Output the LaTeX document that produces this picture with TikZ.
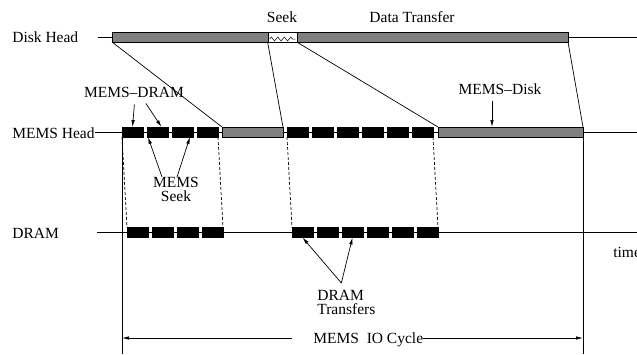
\documentclass[tikz,border=0pt]{standalone}
\usepackage{fontspec}
\setmainfont{Liberation Serif}
\usepackage{tikz}
\usetikzlibrary{arrows.meta,decorations.pathmorphing}
\definecolor{barGray}{RGB}{128,128,128}

\tikzset{
  blk/.style={draw=black, fill=black, minimum width=21pt, minimum height=10pt, inner sep=0pt, outer sep=0pt},
  grayBar/.style={draw=black, fill=barGray, minimum height=10pt, inner sep=0pt, outer sep=0pt},
  lbl/.style={inner sep=0pt, font=\fontsize{15.5}{14}\selectfont},
  pointer/.style={-{Latex[length=7pt,width=3.5pt]}},
}

\begin{document}
\begin{tikzpicture}[x=1pt, y=-1pt, line width=0.7pt]
  \useasboundingbox (0,0) rectangle (637,354);

  % Disk head row
  \node[lbl, anchor=base west] (diskLbl) at (12,42) {Disk Head};
  \coordinate (diskStart) at (98,37);
  \coordinate (diskEnd) at (637,37);
  \draw (diskStart) -- (diskEnd);
  \node[grayBar, minimum width=156pt] (diskA) at (190,37) {};
  \node[draw=black, fill=white, minimum width=29pt, minimum height=10pt, inner sep=0pt] (seekBox) at (282.5,37) {};
  \node[grayBar, minimum width=271pt] (diskB) at (432.5,37) {};
  \draw[line width=0.5pt, decorate, decoration={zigzag, segment length=6.5pt, amplitude=2pt}] %
    ([xshift=2pt, yshift=-2pt]seekBox.west) -- ([xshift=-2pt, yshift=-2pt]seekBox.east);
  \node[lbl, anchor=base] (seekLbl) at (282,22) {Seek};
  \node[lbl, anchor=base] (xferLbl) at (412,22) {Data Transfer};

  % MEMS head row
  \node[lbl, anchor=base west] (memsLbl) at (12,138) {MEMS Head};
  \coordinate (memsEnd) at (637,132);
  \draw (memsLbl.east |- memsEnd) -- (memsEnd);
  \foreach \i in {1,...,4}
    \node[blk] (m\i) at ({132.5+25*(\i-1)},132) {};
  \node[grayBar, minimum width=61pt] (memsA) at (252.5,132) {};
  \foreach \i in {5,...,10}
    \node[blk] (m\i) at ({297.5+25*(\i-5)},132) {};
  \node[grayBar, minimum width=145pt] (memsB) at (510.5,132) {};

  % DRAM row
  \node[lbl, anchor=base west] (dramLbl) at (12,238) {DRAM};
  \coordinate (dramStart) at (97,232.5);
  \coordinate (dramEnd) at (637,232.5);
  \draw (dramStart) -- (dramEnd);
  \foreach \i in {1,...,4}
    \node[blk] (d\i) at ({137.5+25*(\i-1)},232.5) {};
  \foreach \i in {5,...,10}
    \node[blk] (d\i) at ({302.5+25*(\i-5)},232.5) {};

  % Disk to MEMS
  \draw (diskA.south west) -- (memsA.north west);
  \draw (seekBox.south west) -- (memsA.north east);
  \draw (seekBox.south east) -- (memsB.north west);
  \draw (diskB.south east) -- (memsB.north east);

  % MEMS to DRAM
  \draw[dash pattern=on 3pt off 2pt] (m1.south west) -- (d1.north west);
  \draw[dash pattern=on 3pt off 2pt] (m4.south east) -- (d4.north east);
  \draw[dash pattern=on 3pt off 2pt] (m5.south west) -- (d5.north west);
  \draw[dash pattern=on 3pt off 2pt] (m10.south east) -- (d10.north east);

  % Cycle bounds
  \coordinate (cycL) at (122,354);
  \coordinate (cycR) at (583,354);
  \draw (m1.north west) -- (cycL);
  \draw (memsB.north east) -- (cycR);

  % Labels with pointers
  \node[lbl, anchor=base] (mdLbl) at (134,97) {MEMS--DRAM};
  \draw[pointer, shorten <=7pt] ([xshift=1pt]mdLbl.south) -- (m1.north);
  \draw[pointer, shorten <=7pt] ([xshift=8pt]mdLbl.south) -- ([xshift=4pt]m2.north);

  \node[lbl, align=center, anchor=north] (msLbl) at (176,177) {MEMS\\Seek};
  \draw[pointer] ([xshift=-14pt]msLbl.north) -- ([xshift=1pt]m2.south west);
  \draw[pointer] ([xshift=1pt]msLbl.north) -- ([xshift=-3pt]m3.south east);

  \node[lbl, align=left, anchor=north west] (dtLbl) at (317,290) {DRAM\\Transfers};
  \draw[pointer] ([xshift=-5pt, yshift=7pt]dtLbl.north) -- (d5.south);
  \draw[pointer] ([xshift=-5pt, yshift=7pt]dtLbl.north) -- (d7.south);

  \node[lbl, anchor=base] (mkLbl) at (500,94) {MEMS--Disk};
  \draw[pointer, shorten <=6pt] ([xshift=-8pt]mkLbl.south) -- ([xshift=-8pt]mkLbl.south |- memsB.north);

  \node[lbl, anchor=base west] (timeLbl) at (613,257) {time};

  % IO cycle
  \node[lbl, anchor=base west] (cycLbl) at (313,343) {MEMS\ \ IO Cycle};
  \coordinate (cycA) at (292,338);
  \draw[pointer] (cycA) -- (cycL |- cycA);
  \draw[pointer] (cycLbl.east |- cycA) -- (cycR |- cycA);
\end{tikzpicture}
\end{document}
